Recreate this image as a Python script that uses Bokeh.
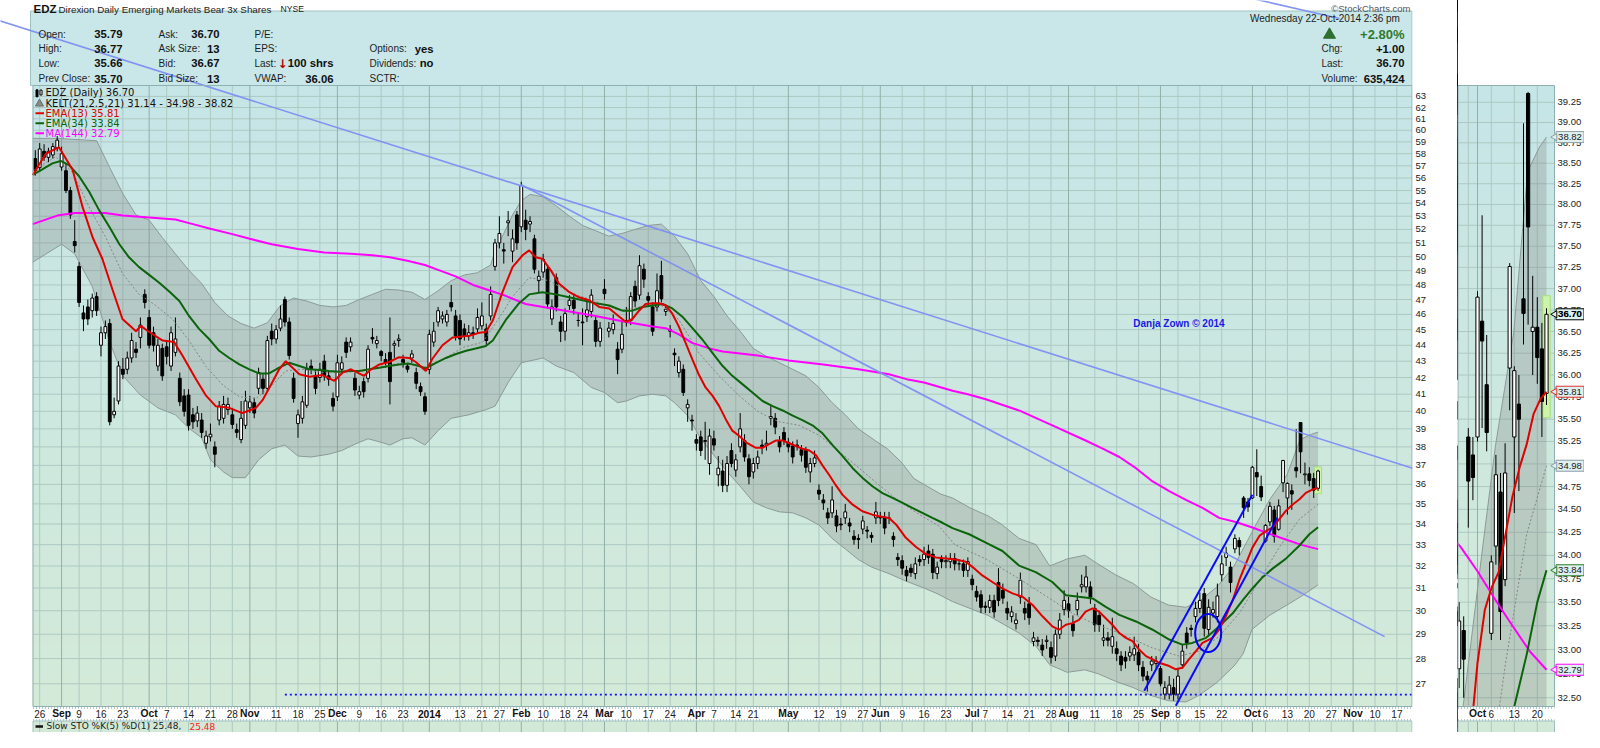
import numpy as np
import pandas as pd
from bokeh.plotting import figure
from bokeh.layouts import row
from bokeh.models import Range1d, FixedTicker, PrintfTickFormatter, ColumnDataSource
from bokeh.core.properties import value
from bokeh.embed import file_html
from bokeh.resources import INLINE

# ---------------- trading calendar (x = trading-day index, 26-Aug-2013 = 0) ----------------
HOLIDAYS = ["2013-09-02", "2013-11-28", "2013-12-25", "2014-01-01", "2014-01-20",
            "2014-02-17", "2014-04-18", "2014-05-26", "2014-07-04", "2014-09-01", "2014-11-27"]
CAL = pd.bdate_range("2013-08-23", "2014-11-28", freq="C", holidays=HOLIDAYS)
BASE = int(CAL.get_loc(pd.Timestamp("2013-08-26")))


def xi(d):
    return int(CAL.get_loc(pd.Timestamp(d))) - BASE


# ---------------- daily candles, 23-Aug-2013 .. 22-Oct-2014 ----------------
OPEN = [57.6, 56.85, 58.2, 57.7, 57.9, 58.5, 56.9, 56.6, 55.0, 51.1,
        49.3, 46.1, 46.5, 46.25, 47.2, 44.0, 44.8, 45.4, 39.8, 40.6,
        42.5, 42.5, 43.2, 43.75, 44.5, 47.35, 45.8, 44.8, 42.7, 43.8,
        43.9, 42.7, 43.55, 41.95, 40.9, 40.95, 39.8, 39.45, 39.5, 38.2,
        38.55, 38.0, 39.5, 39.6, 40.1, 39.8, 38.95, 38.4, 39.2, 40.2,
        40.5, 41.35, 41.9, 41.35, 44.9, 44.4, 45.1, 47.0, 45.5, 41.95,
        39.3, 39.6, 40.35, 42.7, 42.1, 42.0, 43.0, 42.1, 40.75, 40.85,
        42.5, 44.2, 43.9, 41.95, 40.95, 41.75, 41.95, 44.5, 44.1, 43.6,
        43.1, 43.55, 44.0, 44.3, 43.1, 42.7, 43.2, 42.3, 41.45, 40.85,
        42.5, 44.2, 45.5, 45.7, 45.5, 46.8, 45.9, 45.6, 45.05, 44.6,
        44.8, 45.05, 45.25, 45.05, 45.9, 49.3, 51.0, 50.5, 52.5, 50.4,
        53.1, 52.2, 52.7, 52.4, 51.3, 48.3, 48.9, 49.1, 45.7, 48.5,
        45.5, 44.9, 46.6, 46.95, 45.6, 45.5, 45.85, 46.2, 45.6, 44.25,
        47.7, 44.9, 45.0, 43.75, 43.75, 45.6, 45.6, 47.9, 47.3, 49.1,
        47.2, 46.5, 46.5, 48.65, 46.2, 45.0, 43.5, 42.3, 42.5, 40.2,
        39.5, 38.4, 38.55, 38.3, 37.1, 38.45, 36.5, 36.7, 35.95, 37.8,
        36.75, 38.0, 38.35, 37.35, 36.65, 37.1, 38.1, 38.1, 39.6, 39.6,
        38.35, 38.8, 38.25, 38.05, 38.1, 37.85, 37.8, 36.65, 37.1, 35.7,
        35.2, 34.55, 34.55, 34.4, 34.0, 34.3, 34.05, 33.4, 33.3, 33.75,
        33.7, 33.45, 34.3, 34.35, 34.3, 34.3, 33.4, 32.4, 32.25, 31.8,
        31.9, 31.65, 32.3, 32.3, 32.7, 32.55, 31.65, 32.3, 32.2, 32.2,
        32.35, 32.1, 32.1, 31.8, 31.4, 30.85, 30.7, 30.2, 30.15, 30.45,
        31.25, 30.9, 30.1, 29.75, 29.45, 30.6, 30.1, 30.3, 28.7, 28.75,
        28.55, 28.7, 28.45, 28.1, 29.0, 30.05, 30.3, 29.45, 30.05, 31.05,
        31.05, 31.05, 30.1, 29.8, 28.75, 28.85, 28.5, 28.4, 28.1, 28.05,
        28.1, 28.15, 28.25, 27.65, 27.3, 27.75, 27.8, 27.6, 26.6, 26.6,
        26.85, 26.6, 27.75, 29.05, 29.25, 29.75, 30.1, 30.75, 29.2, 29.9,
        29.75, 31.6, 32.4, 31.95, 32.8, 33.2, 35.3, 35.1, 35.3, 36.62,
        35.89, 33.17, 34.1, 34.69, 33.74, 36.08, 35.3, 35.67, 36.88, 39.36,
        36.5, 36.55, 36.3, 35.79]
HIGH = [58.3, 58.9, 58.8, 58.5, 58.9, 59.5, 58.6, 57.2, 55.3, 52.7,
        49.6, 46.6, 47.0, 47.4, 47.5, 45.2, 45.6, 45.7, 40.8, 43.0,
        43.2, 43.6, 44.8, 44.2, 45.8, 47.7, 46.3, 45.2, 44.4, 44.1,
        44.3, 45.2, 45.8, 42.3, 41.3, 41.3, 40.2, 40.3, 39.9, 38.9,
        39.3, 38.3, 40.6, 40.9, 40.8, 40.2, 39.3, 40.6, 41.2, 40.9,
        40.8, 42.6, 42.2, 44.6, 45.4, 45.3, 46.6, 47.2, 45.8, 42.3,
        40.1, 40.9, 42.9, 43.1, 42.5, 42.9, 43.4, 42.4, 41.1, 43.4,
        43.3, 44.5, 44.5, 42.3, 41.5, 42.0, 44.0, 45.1, 44.6, 43.7,
        43.5, 45.8, 44.3, 44.7, 43.4, 42.9, 43.7, 42.6, 41.7, 41.1,
        45.0, 45.5, 46.5, 46.2, 46.3, 48.0, 46.3, 46.0, 45.4, 45.3,
        45.2, 46.4, 46.8, 45.4, 47.9, 51.3, 53.0, 51.0, 53.4, 52.0,
        53.4, 55.7, 53.5, 53.0, 51.6, 49.0, 50.2, 49.4, 47.0, 48.8,
        45.9, 46.4, 47.3, 47.3, 46.1, 46.4, 46.9, 47.7, 45.9, 45.5,
        48.4, 45.5, 46.0, 44.2, 45.5, 46.5, 47.5, 48.3, 50.1, 49.5,
        47.5, 46.8, 48.8, 49.7, 46.6, 45.3, 43.8, 43.3, 42.8, 40.7,
        39.8, 38.7, 38.9, 39.4, 39.0, 38.9, 37.5, 37.3, 37.5, 38.2,
        37.6, 39.9, 38.7, 37.6, 37.4, 37.8, 38.4, 38.9, 40.3, 39.9,
        38.6, 39.1, 38.5, 38.3, 38.4, 38.1, 38.0, 37.4, 37.8, 36.0,
        35.5, 34.8, 35.9, 34.7, 34.3, 35.0, 34.3, 33.7, 33.5, 34.4,
        33.9, 33.6, 35.1, 34.6, 34.6, 34.6, 33.6, 32.6, 32.5, 32.0,
        32.1, 32.4, 32.5, 32.9, 33.0, 32.8, 32.2, 32.5, 32.5, 32.6,
        32.6, 32.3, 32.3, 32.4, 31.6, 31.1, 30.9, 30.4, 30.7, 30.7,
        31.9, 31.2, 30.4, 30.2, 29.9, 31.7, 30.4, 30.6, 29.1, 28.9,
        28.8, 28.95, 28.7, 29.2, 29.9, 30.9, 30.6, 29.8, 30.8, 31.6,
        32.0, 31.3, 30.3, 30.0, 29.4, 29.1, 29.7, 28.7, 28.3, 28.3,
        28.5, 28.9, 28.6, 27.9, 27.5, 28.1, 28.1, 27.7, 27.1, 27.3,
        27.2, 27.6, 28.6, 29.3, 29.4, 30.4, 30.8, 31.0, 30.5, 30.4,
        31.2, 32.5, 32.9, 32.2, 33.5, 33.35, 35.4, 35.3, 36.97, 37.87,
        36.46, 34.0, 35.1, 34.9, 35.23, 37.3, 36.1, 36.0, 38.99, 39.38,
        37.15, 36.9, 36.6, 36.77]
LOW = [56.2, 56.5, 57.4, 57.3, 57.6, 58.2, 56.6, 54.8, 52.8, 50.3,
       46.5, 44.9, 45.3, 45.8, 45.9, 43.3, 44.4, 39.2, 39.6, 40.4,
       41.9, 42.2, 42.9, 43.2, 43.8, 46.4, 43.8, 43.6, 42.4, 41.8,
       42.8, 42.4, 43.3, 40.3, 39.7, 38.9, 39.0, 39.1, 38.5, 37.9,
       38.3, 36.9, 39.2, 39.3, 39.8, 39.0, 38.5, 38.2, 39.0, 39.9,
       39.6, 41.0, 41.0, 41.2, 44.0, 44.1, 44.9, 45.2, 43.1, 40.5,
       38.5, 39.3, 40.2, 42.2, 41.0, 41.7, 41.8, 41.5, 40.0, 40.6,
       42.2, 43.2, 43.6, 40.9, 40.7, 40.8, 41.7, 44.1, 43.8, 43.0,
       42.6, 40.4, 43.2, 43.9, 42.6, 42.3, 42.9, 41.3, 40.9, 39.8,
       42.2, 43.9, 45.2, 45.4, 45.2, 46.2, 44.3, 44.0, 44.3, 44.3,
       44.4, 44.8, 45.0, 44.0, 45.6, 49.0, 50.6, 49.5, 51.5, 49.6,
       50.5, 51.8, 51.2, 51.8, 48.8, 47.5, 48.5, 46.4, 45.3, 46.2,
       44.2, 44.3, 46.3, 46.0, 45.2, 44.0, 45.5, 45.8, 43.9, 43.9,
       47.0, 44.5, 44.7, 42.2, 43.5, 45.2, 45.3, 46.5, 47.0, 47.8,
       46.6, 44.6, 46.2, 46.8, 45.9, 44.5, 42.7, 42.0, 40.9, 39.4,
       38.9, 37.8, 37.5, 37.3, 36.5, 37.8, 35.9, 35.6, 35.6, 36.9,
       36.4, 37.7, 37.2, 36.0, 36.3, 36.8, 37.6, 37.8, 39.2, 38.7,
       37.7, 38.1, 37.7, 37.1, 37.8, 37.2, 36.6, 36.1, 36.9, 35.2,
       34.7, 34.0, 34.3, 33.6, 33.7, 34.0, 33.6, 33.0, 32.8, 33.5,
       33.3, 33.1, 34.0, 34.0, 33.5, 34.0, 32.9, 32.0, 31.6, 31.3,
       31.5, 31.4, 32.0, 32.0, 32.1, 31.4, 31.4, 31.9, 31.9, 31.9,
       31.8, 31.8, 31.5, 31.5, 30.9, 30.4, 29.9, 29.9, 29.9, 29.7,
       30.2, 30.3, 29.6, 29.5, 29.2, 30.3, 29.6, 29.4, 28.5, 28.5,
       28.1, 28.4, 27.8, 27.9, 28.8, 29.8, 29.7, 28.9, 29.8, 30.8,
       30.8, 30.3, 29.1, 29.1, 28.5, 28.5, 28.2, 27.9, 27.5, 27.6,
       27.9, 27.9, 27.5, 27.1, 26.7, 27.5, 27.6, 26.9, 26.4, 26.4,
       26.35, 26.4, 27.6, 28.4, 28.9, 29.5, 29.9, 28.9, 28.9, 29.7,
       29.5, 31.3, 32.0, 30.8, 32.6, 32.5, 34.3, 34.6, 35.25, 35.4,
       35.14, 33.1, 33.9, 33.1, 33.67, 35.6, 34.46, 34.7, 36.35, 36.58,
       36.0, 35.9, 35.3, 35.66]
CLOSE = [56.6, 58.4, 57.7, 58.2, 58.6, 59.15, 58.0, 55.0, 53.1, 50.8,
         46.8, 45.7, 45.7, 47.1, 46.25, 44.8, 45.2, 39.4, 40.0, 42.7,
         42.2, 43.2, 44.3, 43.55, 45.3, 46.8, 44.0, 44.0, 44.0, 42.1,
         43.3, 44.8, 44.4, 40.55, 40.0, 39.2, 39.4, 39.9, 38.8, 38.6,
         38.7, 37.6, 40.3, 40.4, 40.4, 39.25, 38.8, 39.6, 40.6, 40.55,
         39.9, 42.3, 41.35, 44.3, 44.4, 45.0, 45.7, 45.5, 43.35, 40.75,
         39.8, 40.55, 42.5, 42.5, 41.35, 42.5, 42.1, 41.9, 40.3, 42.9,
         42.9, 43.55, 44.2, 41.25, 41.15, 41.15, 43.75, 44.4, 44.3, 43.35,
         42.9, 41.75, 44.1, 44.4, 42.9, 42.5, 43.45, 41.65, 41.15, 40.0,
         44.7, 44.9, 46.25, 45.9, 46.0, 46.5, 44.6, 44.4, 44.6, 44.8,
         44.7, 45.8, 45.9, 44.3, 47.35, 51.0, 51.7, 50.4, 52.65, 51.3,
         51.0, 55.4, 52.0, 52.6, 49.1, 48.6, 49.8, 46.7, 46.5, 46.5,
         44.9, 46.05, 46.95, 46.4, 45.6, 45.45, 46.3, 47.3, 44.25, 45.1,
         47.4, 45.1, 45.4, 43.1, 44.7, 45.6, 47.2, 46.9, 49.35, 48.4,
         46.95, 44.9, 47.6, 47.05, 46.35, 44.9, 43.4, 43.0, 41.1, 40.4,
         39.45, 38.2, 37.8, 38.35, 38.6, 38.1, 36.85, 35.95, 37.1, 37.1,
         37.3, 39.0, 37.45, 36.4, 37.1, 37.45, 38.0, 38.2, 39.7, 39.1,
         38.0, 38.35, 38.0, 37.45, 38.05, 37.55, 36.9, 37.1, 37.4, 35.5,
         35.05, 34.3, 35.2, 33.9, 33.95, 34.6, 33.9, 33.25, 33.25, 34.15,
         33.65, 33.35, 34.6, 34.3, 33.8, 34.3, 33.25, 32.3, 31.9, 31.55,
         31.7, 32.1, 32.2, 32.55, 32.4, 31.7, 31.95, 32.2, 32.25, 32.35,
         32.1, 32.1, 31.8, 32.2, 31.15, 30.6, 30.15, 30.15, 30.45, 29.95,
         30.45, 30.55, 29.9, 29.95, 29.6, 31.35, 29.9, 29.7, 28.85, 28.7,
         28.35, 28.75, 28.05, 29.0, 29.6, 30.45, 30.0, 29.15, 30.45, 31.15,
         31.5, 30.6, 29.4, 29.4, 28.85, 28.75, 28.9, 28.2, 27.75, 27.9,
         28.25, 28.4, 27.75, 27.3, 27.15, 27.9, 27.9, 27.0, 26.85, 26.95,
         26.6, 27.3, 28.3, 28.65, 29.2, 30.1, 30.45, 29.25, 30.15, 30.05,
         30.65, 32.1, 32.6, 31.25, 33.3, 32.9, 34.81, 34.85, 36.9, 36.39,
         35.35, 33.93, 34.88, 33.4, 34.9, 37.26, 36.05, 35.5, 36.71, 37.73,
         36.55, 36.2, 35.70, 36.70]

# ---------------- overlays: (trading-day index, price) ----------------
EMA13 = [(-1.6, 56.25), (1.4, 58.0), (4.4, 58.55), (7.5, 56.7), (9.8, 53.7), (12.1, 51.4), (14.3, 49.85),
         (16.6, 47.7), (18.9, 45.7), (22.0, 44.9), (23.1, 45.25), (25.0, 44.85), (28.1, 44.3), (30.7, 44.2),
         (32.6, 43.35), (35.7, 41.9), (37.9, 40.95), (40.2, 40.3), (43.3, 40.2), (46.3, 39.9), (49.4, 40.2),
         (50.9, 40.65), (52.8, 41.55), (54.7, 42.5), (56.2, 43.0), (59.3, 42.2), (61.6, 42.05), (64.6, 42.15),
         (67.3, 41.8), (69.2, 42.3), (71.1, 42.5), (74.1, 42.1), (75.7, 42.5), (77.6, 42.8), (79.8, 42.95),
         (82.1, 43.25), (84.4, 43.2), (85.9, 42.95), (88.2, 42.4), (89.7, 43.15), (92.0, 44.0), (94.3, 44.5),
         (98.1, 44.6), (100.4, 44.8), (101.9, 44.85), (103.5, 45.6), (105.7, 47.5), (108.0, 49.25),
         (110.3, 50.1), (111.8, 50.45), (113.3, 49.95), (114.8, 49.85), (116.8, 49.0), (118.6, 48.1),
         (121.0, 47.5), (123.2, 47.15), (125.5, 46.95), (127.8, 46.5), (130.1, 46.4), (132.4, 45.85),
         (133.9, 45.5), (135.4, 45.7), (136.9, 46.25), (138.4, 46.7), (140.0, 46.75), (141.5, 46.75),
         (143.0, 46.6), (144.5, 46.05), (146.0, 45.2), (147.6, 44.1), (149.1, 43.1), (150.6, 42.15),
         (152.1, 41.4), (153.7, 40.9), (155.2, 40.3), (156.7, 39.55), (158.2, 38.9), (159.8, 38.6),
         (161.3, 38.25), (163.6, 37.95), (165.1, 37.95), (166.6, 38.15), (168.1, 38.35), (169.7, 38.35),
         (171.2, 38.2), (172.7, 38.05), (174.2, 37.9), (175.8, 37.8), (177.3, 37.55), (178.8, 37.0),
         (180.3, 36.5), (181.8, 35.97), (183.4, 35.46), (185.7, 34.96), (187.9, 34.63), (190.2, 34.46),
         (191.7, 34.38), (194.0, 34.3), (195.6, 33.98), (197.8, 33.34), (200.1, 32.9), (202.4, 32.56),
         (204.7, 32.4), (207.0, 32.35), (209.3, 32.3), (211.5, 32.2), (213.1, 31.95), (215.3, 31.57),
         (217.6, 31.27), (219.9, 30.98), (222.2, 30.76), (224.5, 30.61), (226.8, 30.25), (229.1, 29.75),
         (231.3, 29.33), (232.8, 29.19), (234.4, 29.4), (235.9, 29.47), (237.4, 29.61), (238.9, 29.96),
         (240.5, 30.1), (242.0, 29.96), (243.5, 29.68), (245.0, 29.4), (246.6, 29.05), (248.1, 28.85),
         (249.6, 28.71), (251.1, 28.37), (252.7, 28.1), (254.2, 27.97), (255.7, 27.83), (258.0, 27.7),
         (259.5, 27.57), (261.0, 27.63), (262.5, 27.97), (264.1, 28.3), (265.6, 28.64), (267.9, 28.85),
         (269.4, 29.19), (270.9, 29.75), (272.5, 30.46), (274.0, 31.35), (275.5, 32.1), (277.0, 32.86),
         (278.6, 33.42), (280.1, 33.66), (281.6, 33.82), (283.1, 34.23), (284.6, 34.64), (286.2, 34.97),
         (287.7, 35.22), (289.2, 35.56), (290.7, 35.73), (292.0, 35.81)]
EMA34 = [(-1.6, 56.25), (0.6, 56.7), (2.9, 57.2), (4.8, 57.4), (6.7, 57.05), (9.0, 56.15), (11.3, 54.9),
         (13.6, 53.45), (15.9, 52.2), (18.2, 50.9), (20.4, 49.95), (22.7, 49.25), (25.0, 48.7), (27.3, 48.15),
         (29.6, 47.55), (31.9, 46.9), (34.1, 45.9), (36.4, 45.05), (38.7, 44.4), (41.0, 43.65), (43.3, 43.2),
         (45.6, 42.8), (47.9, 42.5), (50.1, 42.25), (52.4, 42.25), (54.7, 42.6), (57.0, 42.9), (59.3, 42.7),
         (61.6, 42.5), (63.9, 42.45), (66.1, 42.4), (68.4, 42.35), (70.7, 42.4), (73.0, 42.4), (75.3, 42.5),
         (77.6, 42.6), (79.8, 42.7), (82.1, 42.8), (84.4, 42.85), (86.7, 42.7), (88.2, 42.55), (90.5, 42.9),
         (92.8, 43.2), (95.1, 43.45), (97.4, 43.65), (99.6, 43.8), (101.9, 43.95), (103.5, 44.3),
         (106.5, 45.65), (109.5, 46.75), (111.8, 47.35), (114.8, 47.5), (117.9, 47.35), (120.9, 47.15),
         (124.0, 46.95), (127.0, 46.75), (130.1, 46.6), (133.1, 46.25), (135.4, 46.25), (137.7, 46.5),
         (140.0, 46.6), (142.3, 46.7), (144.5, 46.4), (146.8, 45.85), (149.1, 45.1), (151.4, 44.35),
         (153.7, 43.5), (156.0, 42.7), (158.2, 42.1), (160.5, 41.6), (162.8, 41.1), (165.1, 40.6),
         (167.4, 40.3), (169.7, 40.05), (172.0, 39.75), (174.2, 39.5), (176.5, 39.2), (178.8, 38.75),
         (181.1, 38.1), (183.4, 37.5), (185.7, 36.85), (187.9, 36.35), (190.2, 35.9), (192.5, 35.55),
         (194.8, 35.3), (197.1, 35.05), (199.3, 34.8), (201.6, 34.55), (203.9, 34.3), (206.2, 34.06),
         (208.5, 33.8), (212.3, 33.5), (216.1, 33.1), (219.9, 32.7), (223.7, 32.02), (227.5, 31.72),
         (231.3, 31.27), (234.4, 30.68), (237.4, 30.61), (240.5, 30.54), (243.5, 30.17), (246.6, 29.82),
         (250.4, 29.54), (254.2, 29.19), (258.0, 28.78), (261.0, 28.57), (263.3, 28.64), (266.4, 28.85),
         (269.4, 29.33), (272.5, 29.89), (274.8, 30.46), (277.0, 30.98), (279.4, 31.5), (281.6, 31.88),
         (284.6, 32.33), (287.7, 32.95), (290.0, 33.5), (292.0, 33.84)]
MA144 = [(-1.6, 52.4), (4, 53.05), (8, 53.25), (15, 53.25), (19, 53.05), (25, 52.9), (31, 52.75), (35, 52.4),
         (39, 52.05), (44, 51.65), (48, 51.3), (53, 50.9), (59, 50.55), (65, 50.3), (71, 50.2), (76, 50.1),
         (80, 49.95), (84, 49.7), (88, 49.4), (91, 49.05), (95, 48.6), (99, 48.0), (103, 47.6), (106, 47.3),
         (111, 46.7), (119, 46.3), (126, 45.95), (134, 45.5), (140, 45.2), (143, 45.1), (146, 44.7),
         (149, 44.15), (153, 43.8), (156, 43.6), (164, 43.35), (171, 43.05), (179, 42.8), (187, 42.5),
         (194, 42.2), (198, 41.9), (202, 41.7), (208.5, 41.2), (212, 41.0), (216.1, 40.7), (223.7, 40.05),
         (231.3, 39.2), (238.9, 38.35), (242.8, 37.9), (246.6, 37.45), (250.4, 36.85), (254.2, 36.15),
         (258.0, 35.65), (261.8, 35.2), (265.6, 34.8), (269.4, 34.3), (273.2, 34.1), (277.0, 33.83),
         (280.8, 33.53), (284.6, 33.25), (288.4, 32.98), (292.0, 32.79)]
KELT_MID = [(-1.6, 56.6), (3.7, 57.75), (7.5, 56.45), (11.3, 53.7), (15.1, 51.4), (18.9, 48.8), (22.7, 47.35),
            (26.5, 46.6), (30.3, 45.7), (34.1, 44.3), (37.9, 42.7), (41.8, 41.55), (45.6, 40.85), (49.4, 40.75),
            (52.4, 41.35), (56.2, 42.4), (60.0, 42.5), (64.6, 42.3), (69.2, 42.3), (73.8, 42.4), (78.3, 42.7),
            (82.9, 42.9), (87.5, 42.6), (92.0, 43.1), (96.6, 43.85), (101.2, 44.2), (105.7, 46.1), (108.0, 47.2),
            (111.8, 48.5), (116.4, 48.3), (121.0, 47.5), (126.3, 46.95), (132.4, 46.25), (136.9, 46.5),
            (141.5, 46.75), (146.0, 45.65), (150.6, 43.5), (155.2, 42.1), (159.8, 40.9), (164.3, 39.95),
            (168.9, 39.4), (173.5, 39.2), (178.0, 38.65), (182.6, 37.75), (187.2, 36.85), (191.7, 35.97),
            (196.3, 35.13), (200.9, 34.47), (205.4, 33.9), (209.0, 33.0), (216.1, 32.33), (223.7, 31.42),
            (231.3, 30.46), (235.9, 29.89), (240.5, 29.47), (246.6, 29.05), (254.2, 28.43), (260.3, 28.1),
            (264.8, 28.3), (269.4, 28.91), (274.0, 29.89), (278.6, 31.35), (283.1, 32.86), (287.7, 34.23),
            (292.0, 34.98)]
KELT_UP = [(-1.6, 59.3), (4, 59.3), (13, 59.1), (16, 56.85), (19, 54.75), (22, 53.1), (25, 52.7), (28, 51.4),
           (31, 50.2), (34, 49.05), (37, 48.1), (40, 46.8), (43, 45.9), (46, 45.4), (49, 45.1), (52, 45.45),
           (55, 46.6), (58, 47.1), (61, 46.9), (64, 46.6), (67, 46.5), (70, 46.6), (73, 47.0), (76, 47.35),
           (79, 47.7), (82, 47.65), (85, 47.5), (88, 47.0), (91, 47.6), (94, 48.3), (97, 48.7), (100, 48.85),
           (103, 49.4), (104, 50.4), (106, 51.7), (108, 53.1), (110, 54.2), (112, 54.7), (115, 54.5),
           (118, 53.8), (121, 53.0), (124, 52.3), (127, 51.9), (130, 51.5), (133, 51.7), (136, 52.0),
           (139, 52.3), (142, 52.4), (145, 51.5), (148, 50.2), (151, 48.3), (154, 47.2), (157, 45.9),
           (160, 44.9), (163, 43.8), (166, 43.3), (169, 42.9), (172, 42.5), (175, 42.1), (178, 41.4),
           (181, 40.5), (184, 39.8), (187, 39.0), (190.5, 38.4), (193.6, 37.9), (196.7, 37.2), (199.7, 36.3),
           (202.7, 35.9), (205.8, 35.5), (208.5, 35.3), (212.5, 34.8), (216.6, 34.4), (219.6, 34.0),
           (223.7, 33.3), (227.6, 33.0), (230.7, 32.0), (234.7, 32.33), (238.7, 32.5), (241.7, 32.1),
           (245.7, 31.6), (249.8, 31.2), (253.8, 30.6), (257.8, 30.25), (261.8, 30.15), (264.8, 30.4),
           (268.9, 31.05), (272.8, 32.0), (275.9, 33.2), (277.9, 34.0), (280.9, 35.2), (284.9, 36.5),
           (287.9, 38.4), (290.5, 38.7), (292.0, 38.82)]
KELT_LO = [(-1.6, 49.6), (5, 50.9), (8, 50.2), (12, 47.9), (16, 44.2), (19, 42.1), (23, 40.95), (27, 40.2),
           (31, 39.8), (34, 39.05), (37, 38.5), (39, 37.3), (42, 36.65), (44, 36.35), (47, 36.35), (50, 37.3),
           (53, 37.9), (56, 38.1), (59, 37.5), (62, 37.45), (66, 37.6), (69, 37.8), (72, 38.15), (75, 38.45),
           (78, 38.25), (80, 38.1), (83, 38.45), (85, 38.5), (88, 38.1), (91, 38.9), (94, 39.6), (98, 39.8),
           (102, 40.1), (104, 40.3), (107, 41.7), (110, 42.9), (115, 43.2), (118, 42.7), (122, 42.3),
           (126, 41.4), (129, 41.1), (132, 40.5), (134, 40.6), (137, 40.9), (140, 41.0), (143, 40.9),
           (145, 40.5), (148, 39.75), (151, 38.45), (154, 37.55), (157, 36.67), (160, 35.9), (163, 35.1),
           (166, 34.8), (169, 34.6), (172, 34.55), (175, 34.3), (178, 33.95), (181, 33.3), (184, 32.8),
           (187, 32.3), (190, 31.95), (194, 31.65), (198, 31.3), (202, 31.0), (205, 30.75), (208.5, 30.4),
           (216.6, 29.8), (223.7, 29.05), (227.6, 28.5), (230.7, 27.75), (234.7, 27.45), (238.7, 27.55),
           (241.7, 27.4), (245.7, 27.1), (249.8, 26.85), (253.8, 26.55), (257.8, 26.35), (261.8, 26.3),
           (264.8, 26.55), (268.9, 27.05), (272.8, 27.7), (274.9, 28.2), (276.9, 29.2), (280.9, 29.8),
           (284.9, 30.25), (287.9, 30.6), (292.0, 31.14)]

# hand-drawn annotations (index, price)
TREND_UPPER = [(-10.8, 70.5), (313.6, 36.85)]
TREND_LOWER = [(110.0, 55.46), (307.2, 28.9)]
TREND_TOP = [(271.8, 73.1), (296.9, 70.5)]
CHANNEL_A = [(252.3, 26.73), (277.0, 35.47)]
CHANNEL_B = [(259.5, 26.16), (282.7, 34.31)]
CIRCLE = (266.9, 29.05)
SUPPORT = [(56.0, 26.58), (313.6, 26.58)]
NOTE = (249.8, 45.37, "Danja Zown \u00a9 2014")

# axis ticks
PRICE_TICKS = [27, 28, 29, 30, 31, 32, 33, 34, 35, 36, 37, 38, 39, 40, 41, 42, 43, 44, 45,
               46, 47, 48, 49, 50, 51, 52, 53, 54, 55, 56, 57, 58, 59, 60, 61, 62, 63]
RIGHT_TICKS = [32.50, 32.75, 33.00, 33.25, 33.50, 33.75, 34.00, 34.25, 34.50, 34.75, 35.00, 35.25,
               35.50, 35.75, 36.00, 36.25, 36.50, 36.75, 37.00, 37.25, 37.50, 37.75, 38.00, 38.25,
               38.50, 38.75, 39.00, 39.25]
DATE_TICKS = [("2013-08-26", "26", 0), ("2013-09-03", "Sep", 1), ("2013-09-09", "9", 0), ("2013-09-16", "16", 0),
              ("2013-09-23", "23", 0), ("2013-10-01", "Oct", 1), ("2013-10-07", "7", 0), ("2013-10-14", "14", 0),
              ("2013-10-21", "21", 0), ("2013-10-28", "28", 0), ("2013-11-01", "Nov", 1), ("2013-11-11", "11", 0),
              ("2013-11-18", "18", 0), ("2013-11-25", "25", 0), ("2013-12-02", "Dec", 1), ("2013-12-09", "9", 0),
              ("2013-12-16", "16", 0), ("2013-12-23", "23", 0), ("2014-01-02", "2014", 1), ("2014-01-13", "13", 0),
              ("2014-01-21", "21", 0), ("2014-01-27", "27", 0), ("2014-02-03", "Feb", 1), ("2014-02-10", "10", 0),
              ("2014-02-18", "18", 0), ("2014-02-24", "24", 0), ("2014-03-03", "Mar", 1), ("2014-03-10", "10", 0),
              ("2014-03-17", "17", 0), ("2014-03-24", "24", 0), ("2014-04-01", "Apr", 1), ("2014-04-07", "7", 0),
              ("2014-04-14", "14", 0), ("2014-04-21", "21", 0), ("2014-05-01", "May", 1), ("2014-05-12", "12", 0),
              ("2014-05-19", "19", 0), ("2014-05-27", "27", 0), ("2014-06-02", "Jun", 1), ("2014-06-09", "9", 0),
              ("2014-06-16", "16", 0), ("2014-06-23", "23", 0), ("2014-07-01", "Jul", 1), ("2014-07-07", "7", 0),
              ("2014-07-14", "14", 0), ("2014-07-21", "21", 0), ("2014-07-28", "28", 0), ("2014-08-01", "Aug", 1),
              ("2014-08-11", "11", 0), ("2014-08-18", "18", 0), ("2014-08-25", "25", 0), ("2014-09-02", "Sep", 1),
              ("2014-09-08", "8", 0), ("2014-09-15", "15", 0), ("2014-09-22", "22", 0), ("2014-10-01", "Oct", 1),
              ("2014-10-06", "6", 0), ("2014-10-13", "13", 0), ("2014-10-20", "20", 0), ("2014-10-27", "27", 0),
              ("2014-11-03", "Nov", 1), ("2014-11-10", "10", 0), ("2014-11-17", "17", 0)]
RIGHT_DATE_TICKS = [("2014-10-01", "Oct", 1), ("2014-10-06", "6", 0), ("2014-10-13", "13", 0), ("2014-10-20", "20", 0)]
RIGHT_GRID_DATES = ["2014-09-29", "2014-10-01", "2014-10-06", "2014-10-13", "2014-10-20"]

# texts
TITLE = ("EDZ", "Direxion Daily Emerging Markets Bear 3x Shares", "NYSE")
HEADER_LABELS = [["Open:", "High:", "Low:", "Prev Close:"], ["Ask:", "Ask Size:", "Bid:", "Bid Size:"],
                 ["P/E:", "EPS:", "Last:", "VWAP:"], ["", "Options:", "Dividends:", "SCTR:"]]
HEADER_VALUES = [["35.79", "36.77", "35.66", "35.70"], ["36.70", "13", "36.67", "13"],
                 ["", "", "100 shrs", "36.06"], ["", "yes", "no", ""]]
STAMP = "Wednesday  22-Oct-2014  2:36 pm"
CHANGE_PCT = "+2.80%"
QUOTE_LABELS = ["Chg:", "Last:", "Volume:"]
QUOTE_VALUES = ["+1.00", "36.70", "635,424"]
LEGEND = [("EDZ (Daily) 36.70", "#111111"), ("KELT(21,2.5,21) 31.14 - 34.98 - 38.82", "#111111"),
          ("EMA(13) 35.81", "#e00000"), ("EMA(34) 33.84", "#0b640b"), ("MA(144) 32.79", "#ff00ff")]
STO_TEXT = ("Slow STO %K(5) %D(1) 25.48,", "25.48")
TAGS = [(38.82, "38.82", "#8f9f9f", 0), (36.70, "36.70", "#000000", 1), (35.81, "35.81", "#e03030", 0),
        (34.98, "34.98", "#8d9aaa", 0), (33.84, "33.84", "#2a7a2a", 0), (32.79, "32.79", "#ff00ff", 0)]

# ---------------- geometry helpers (page pixel -> data) ----------------
PX0, PXD = 47.2, 4.378
PLOT_T, PLOT_B = 93.0, 714.0
STRIP_B = 727.5           # bottom of the date strip
LOW_T, LOW_B = 728.5, 740.0  # lower indicator strip
P_TOP, P_BOT = 64.0, 26.13
K = (PLOT_B - PLOT_T) / np.log(P_TOP / P_BOT)
R_TOP, R_BOT = 39.46, 32.41
RK = (PLOT_B - PLOT_T) / np.log(R_TOP / R_BOT)
RX0, RXD = 1485.0, 4.6


def ix(px):
    return (px - PX0) / PXD


def py(yy):
    return float(np.exp(np.log(P_TOP) - (yy - PLOT_T) / K))


def irx(px):
    return xi("2014-10-01") + (px - RX0) / RXD


def pr(yy):
    return float(np.exp(np.log(R_TOP) - (yy - PLOT_T) / RK))


TOP_BG = (198, 229, 231)
BOT_BG = (211, 234, 216)
GRID_C = "#adc9c2"
GRID_M = "#92b0a8"
FRAME_C = "#8eb0b0"


def hexcol(rgb):
    return "#%02x%02x%02x" % tuple(int(round(v)) for v in rgb)


def T(fig, xs, ys, texts, size=10.0, color="#111111", bold=False, align="left",
      baseline="middle", font="Liberation Sans"):
    fig.text(x=list(xs), y=list(ys), text=list(texts), text_font=value(font),
             text_font_size=value("%spx" % size), text_color=color,
             text_font_style=("bold" if bold else "normal"), text_align=align, text_baseline=baseline)


def gradient(fig, x0, x1, conv, n=40):
    edges = np.linspace(PLOT_T, PLOT_B, n + 1)
    tops = [conv(e) for e in edges[:-1]]
    bots = [conv(e) for e in edges[1:]]
    cols = [hexcol([TOP_BG[j] + (BOT_BG[j] - TOP_BG[j]) * (k + 0.5) / n for j in range(3)]) for k in range(n)]
    fig.quad(left=[x0] * n, right=[x1] * n, top=tops, bottom=bots, fill_color=cols, line_color=cols, line_width=1)


def split(pairs):
    return [a for a, _ in pairs], [b for _, b in pairs]


DATES = CAL[:len(CLOSE)]
X = np.array([xi(d) for d in DATES], dtype=float)


def price_layers(fig, body_w):
    ux, uy = split(KELT_UP)
    lx, ly = split(KELT_LO)
    fig.patch(ux + lx[::-1], uy + ly[::-1], fill_color="#7b7b7b", fill_alpha=0.27, line_color=None)
    fig.line(ux, uy, line_color="#8c9a98", line_width=1)
    fig.line(lx, ly, line_color="#8c9a98", line_width=1)
    # highlight of the latest bar
    fig.quad(left=[X[-1] - 0.8], right=[X[-1] + 0.8], top=[HIGH[-1] * 1.004], bottom=[LOW[-1] * 0.996],
             fill_color="#cdf5a8", line_color="#a8de7c", line_width=1)
    o = np.array(OPEN); c = np.array(CLOSE)
    src = ColumnDataSource(dict(x=X, h=HIGH, l=LOW, top=np.maximum(o, c), bot=np.minimum(o, c),
                                fill=["#000000" if cc < oo else "#ffffff" for oo, cc in zip(o, c)]))
    fig.segment(x0="x", y0="l", x1="x", y1="h", source=src, line_color="#000000", line_width=1)
    fig.vbar(x="x", width=body_w, top="top", bottom="bot", source=src, fill_color="fill",
             line_color="#000000", line_width=1)
    mx, my = split(KELT_MID)
    fig.line(mx, my, line_color="#858585", line_width=1, line_dash="2 2")
    ax_, ay_ = split(MA144)
    fig.line(ax_, ay_, line_color="#ff00ff", line_width=2)
    gx, gy = split(EMA34)
    fig.line(gx, gy, line_color="#0b640b", line_width=2)
    rx_, ry_ = split(EMA13)
    fig.line(rx_, ry_, line_color="#e00000", line_width=2)


# ======================= main panel =======================
p = figure(width=1457, height=732, x_range=Range1d(ix(8), ix(1420)), y_range=Range1d(py(740), py(8)),
           y_axis_type="log", x_axis_location=None, y_axis_location="right",
           output_backend="svg", toolbar_location=None, min_border=0, min_border_right=45)
p.grid.visible = False
p.outline_line_color = None
p.background_fill_color = "white"
p.border_fill_color = "white"
ax = p.yaxis[0]
ax.ticker = FixedTicker(ticks=PRICE_TICKS)
ax.formatter = PrintfTickFormatter(format="%d")
ax.axis_line_color = None
ax.major_tick_line_color = None
ax.minor_tick_line_color = None
ax.major_tick_out = 0
ax.major_tick_in = 0
ax.major_label_standoff = 3
ax.major_label_text_font_size = "9.5px"
ax.major_label_text_font = "Liberation Sans"
ax.major_label_text_color = "#222222"

# header box
p.quad(left=[ix(38)], right=[ix(1419.5)], top=[py(18.5)], bottom=[py(93)], fill_color="#c9e6e8",
       line_color="#9ec3c3", line_width=1)
# plot background + grid
gradient(p, ix(40.5), ix(1419.5), py)
tick_x = [xi(d) for d, _, _ in DATE_TICKS]
tick_c = [GRID_M if b else GRID_C for _, _, b in DATE_TICKS]
p.segment(x0=[ix(40.5)] * len(PRICE_TICKS), y0=PRICE_TICKS, x1=[ix(1419.5)] * len(PRICE_TICKS), y1=PRICE_TICKS,
          line_color=GRID_C, line_width=1)
p.segment(x0=tick_x, y0=[py(PLOT_T)] * len(tick_x), x1=tick_x, y1=[py(PLOT_B)] * len(tick_x),
          line_color=tick_c, line_width=1)

price_layers(p, 0.64)

# annotations
for seg, col, w in [(TREND_UPPER, "#7d8ef2", 1.6), (TREND_LOWER, "#7d8ef2", 1.6), (TREND_TOP, "#7d8ef2", 1.6),
                    (CHANNEL_A, "#0000ff", 2), (CHANNEL_B, "#0000ff", 2)]:
    sx, sy = split(seg)
    p.line(sx, sy, line_color=col, line_width=w, line_alpha=0.95)
sx, sy = split(SUPPORT)
p.line(sx, sy, line_color="#1010ff", line_width=1.6, line_dash="2 3")
p.ellipse(x=[CIRCLE[0]], y=[CIRCLE[1]], width=26, height=38, width_units="screen", height_units="screen",
          fill_color=None, line_color="#0000ff", line_width=2)
T(p, [NOTE[0]], [NOTE[1]], [NOTE[2]], 10, "#1a1ae6", True)

# frame border
p.quad(left=[ix(40.5)], right=[ix(1419.5)], top=[py(PLOT_T)], bottom=[py(PLOT_B)], fill_color=None,
       line_color=FRAME_C, line_width=1)

# date strip + lower panel
p.quad(left=[ix(40.5)], right=[ix(1419.5)], top=[py(PLOT_B + 0.5)], bottom=[py(LOW_T)], fill_color="white",
       line_color=None)
for yy in (PLOT_B + 1.5, STRIP_B):
    p.line([ix(40.5), ix(1419.5)], [py(yy), py(yy)], line_color="#6f9494", line_width=1, line_dash="1 2")
YLAB = (PLOT_B + STRIP_B) / 2 + 0.3
nb = [(xi(d), t) for d, t, b in DATE_TICKS if not b]
bb = [(xi(d), t) for d, t, b in DATE_TICKS if b]
T(p, [a for a, _ in nb], [py(YLAB)] * len(nb), [t for _, t in nb], 10, "#1a1a1a", False, "center")
T(p, [a for a, _ in bb], [py(YLAB)] * len(bb), [t for _, t in bb], 10.3, "#111111", True, "center")
p.quad(left=[ix(40.5)], right=[ix(1419.5)], top=[py(LOW_T)], bottom=[py(LOW_B)], fill_color="#d3e9d8",
       line_color="#9ec0c0", line_width=1)
p.segment(x0=tick_x, y0=[py(LOW_T + 0.5)] * len(tick_x), x1=tick_x, y1=[py(LOW_B)] * len(tick_x),
          line_color=tick_c, line_width=1)
YSTO = (LOW_T + LOW_B) / 2 - 0.3
p.segment(x0=[ix(43)], y0=[py(YSTO)], x1=[ix(50.5)], y1=[py(YSTO)], line_color="#111111", line_width=2.5)
T(p, [ix(54)], [py(YSTO)], [STO_TEXT[0]], 9, "#222222", font="DejaVu Sans")
T(p, [ix(197)], [py(YSTO)], [STO_TEXT[1]], 9, "#ff2020", font="DejaVu Sans")

# legend
LEG_Y = [100.3, 110.7, 120.7, 130.7, 140.7]
T(p, [ix(53)] * 5, [py(v) for v in LEG_Y], [t for t, _ in LEGEND], 10, [c for _, c in LEGEND], font="DejaVu Sans")
p.rect(x=[ix(44.5), ix(48.5)], y=[py(100.8), py(100.0)], width=[2, 2], height=[7, 5], width_units="screen",
       height_units="screen", fill_color=["#000000", "#ffffff"], line_color="#000000", line_width=1)
p.scatter(x=[ix(47)], y=[py(111.2)], marker="triangle", size=8, fill_color="#8a8a8a", line_color="#6a6a6a")
p.segment(x0=[ix(43)] * 3, y0=[py(v) for v in LEG_Y[2:]], x1=[ix(51.5)] * 3, y1=[py(v) for v in LEG_Y[2:]],
          line_color=[c for _, c in LEGEND[2:]], line_width=2)

# title + header texts
T(p, [ix(41)], [py(16.8)], [TITLE[0]], 11.5, "#111111", True, baseline="alphabetic")
T(p, [ix(66)], [py(16.8)], [TITLE[1]], 9.8, "#222222", baseline="alphabetic")
T(p, [ix(288)], [py(16.8)], [TITLE[2]], 8.6, "#222222", baseline="alphabetic")
T(p, [ix(1418)], [py(15.8)], ["\u00a9StockCharts.com"], 9.5, "#555555", align="right", baseline="alphabetic")
HDR_Y = [41.7, 56.0, 70.7, 86.0]
LBL_X = [46, 166, 262, 377]
VAL_X = [130, 227, 341, 441]
for k in range(4):
    T(p, [ix(LBL_X[k])] * 4, [py(v) for v in HDR_Y], HEADER_LABELS[k], 10, "#1e1e1e")
    T(p, [ix(VAL_X[k])] * 4, [py(v) for v in HDR_Y], HEADER_VALUES[k], 11.3, "#111111", True, "right")
T(p, [ix(290)], [py(71.2)], ["\u2193"], 12, "#b00000", True, "center", font="DejaVu Sans")
T(p, [ix(1413)], [py(26)], [STAMP], 10, "#1e1e1e", align="right")
p.scatter(x=[ix(1337)], y=[py(42.3)], marker="triangle", size=12, fill_color="#2f6f2f", line_color="#2f6f2f")
T(p, [ix(1412)], [py(41.7)], [CHANGE_PCT], 13, "#2f7a2f", True, "right")
T(p, [ix(1329)] * 3, [py(v) for v in HDR_Y[1:]], QUOTE_LABELS, 10, "#1e1e1e")
T(p, [ix(1412)] * 3, [py(v) for v in HDR_Y[1:]], QUOTE_VALUES, 11.3, "#111111", True, "right")

# ======================= right (zoomed) panel =======================
r = figure(width=127, height=732, x_range=Range1d(irx(1465), irx(1592)), y_range=Range1d(pr(740), pr(8)),
           y_axis_type="log", x_axis_location=None, y_axis_location=None,
           output_backend="svg", toolbar_location=None, min_border=0)
r.grid.visible = False
r.outline_line_color = None
r.background_fill_color = "white"
r.border_fill_color = "white"
gradient(r, irx(1465.5), irx(1562), pr)
rg = [xi(d) for d in RIGHT_GRID_DATES]
rgc = [GRID_M if d == "2014-10-01" else GRID_C for d in RIGHT_GRID_DATES]
r.segment(x0=[irx(1465.5)] * len(RIGHT_TICKS), y0=RIGHT_TICKS, x1=[irx(1562)] * len(RIGHT_TICKS),
          y1=RIGHT_TICKS, line_color=GRID_C, line_width=1)
r.segment(x0=rg, y0=[pr(PLOT_T)] * len(rg), x1=rg, y1=[pr(PLOT_B)] * len(rg), line_color=rgc, line_width=1)
price_layers(r, 0.7)
# cover everything below the price area, then strips
r.quad(left=[irx(1465)], right=[irx(1592)], top=[pr(PLOT_B + 0.5)], bottom=[pr(740)], fill_color="white",
       line_color=None)
r.quad(left=[irx(1562)], right=[irx(1592)], top=[pr(PLOT_T - 2)], bottom=[pr(PLOT_B)], fill_color="white",
       line_color=None)
r.quad(left=[irx(1465.5)], right=[irx(1562)], top=[pr(PLOT_T)], bottom=[pr(PLOT_B)], fill_color=None,
       line_color=FRAME_C, line_width=1)
for yy in (PLOT_B + 1.5, STRIP_B):
    r.line([irx(1465.5), irx(1562)], [pr(yy), pr(yy)], line_color="#6f9494", line_width=1, line_dash="1 2")
rnb = [(xi(d), t) for d, t, b in RIGHT_DATE_TICKS if not b]
rbb = [(xi(d), t) for d, t, b in RIGHT_DATE_TICKS if b]
T(r, [a for a, _ in rnb], [pr(YLAB)] * len(rnb), [t for _, t in rnb], 10, "#1a1a1a", False, "center")
T(r, [a for a, _ in rbb], [pr(YLAB)] * len(rbb), [t for _, t in rbb], 10.3, "#111111", True, "center")
r.quad(left=[irx(1465.5)], right=[irx(1562)], top=[pr(LOW_T)], bottom=[pr(LOW_B)], fill_color="#d3e9d8",
       line_color="#9ec0c0", line_width=1)
r.segment(x0=rg, y0=[pr(LOW_T + 0.5)] * len(rg), x1=rg, y1=[pr(LOW_B)] * len(rg), line_color=rgc, line_width=1)
# y tick labels
T(r, [irx(1565)] * len(RIGHT_TICKS), RIGHT_TICKS, ["%.2f" % v for v in RIGHT_TICKS], 9.5, "#222222")
# value tags
tv = [t[0] for t in TAGS]
r.rect(x=[irx(1577.5)] * len(TAGS), y=tv, width=28, height=11, width_units="screen", height_units="screen",
       fill_color="#dff0f0", line_color=[t[2] for t in TAGS], line_width=1)
r.scatter(x=[irx(1562.3)] * len(TAGS), y=tv, marker="triangle", size=7, angle=np.pi / 2,
          fill_color="#dff0f0", line_color=[t[2] for t in TAGS], line_width=1)
T(r, [irx(1577.5)] * len(TAGS), tv, [t[1] for t in TAGS], 9.5, "#1a1a1a", False, "center")
T(r, [irx(1577.5)], [36.70], ["36.70"], 9.5, "#000000", True, "center")

layout = row(p, r)
with open("out.html", "w") as f:
    f.write(file_html(layout, INLINE))
